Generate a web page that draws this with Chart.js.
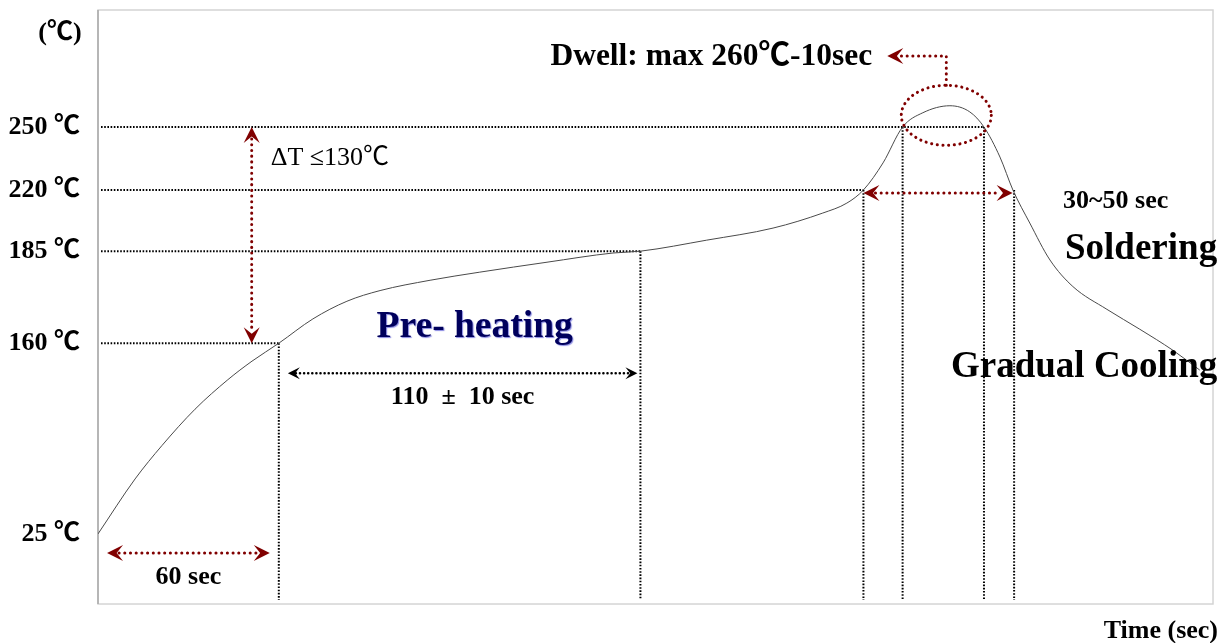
<!DOCTYPE html>
<html>
<head>
<meta charset="utf-8">
<script src="https://cdn.jsdelivr.net/npm/chart.js@4.4.1/dist/chart.umd.min.js"></script>
<style>
  html, body { margin: 0; padding: 0; background: #fff; }
  #wrap { width: 1223px; height: 643px; }
</style>
</head>
<body>
<div id="wrap"><canvas id="profile"></canvas></div>
<script>
// reflow profile (time in sec, temperature in deg C)
const times = [0, 12.3, 21.2, 32.2, 43.1, 51.1, 60, 71.3, 82.6, 93.6, 110.2, 126.7, 149, 170.9, 180, 202, 224, 240.5, 248.5, 254, 260.5, 267, 273.7, 282.7, 289.3, 294, 299.3, 303.6, 309.2, 315.9, 323.5, 334.8, 345.7, 356.7, 365.6];
const temps = [25, 63.9, 87.5, 113.3, 134.2, 147.3, 160, 166.6, 171.4, 174.3, 177.1, 179.3, 182, 184.5, 185, 191.3, 198.2, 206.8, 212.5, 220, 232.9, 250, 256.7, 260, 257.1, 250, 235.7, 220, 201.1, 182.6, 175.4, 169.2, 163.8, 155, 141];

const tempTicks = [25, 160, 185, 220, 250];

// dotted guide lines
const levelTemps = [160, 185, 220, 250];
const levelEnds = [60, 180, 254, 294];
const markTimes = [60, 180, 254, 267, 294, 304];
const markTemps = [160, 185, 220, 250, 250, 220];

const RED = "#800000";
const SERIF = "'Liberation Serif', 'Times New Roman', 'Noto Sans CJK JP', serif";

// the temperature axis in the picture is not linear, so map it piecewise
class PiecewiseScale extends Chart.LinearScale {
  static id = "piecewise";
  toDecimal(v) {
    const s = this.options.stops;
    if (v <= s[0][0]) return s[0][1];
    for (let i = 1; i < s.length; i++) {
      if (v <= s[i][0]) {
        const [v0, d0] = s[i - 1], [v1, d1] = s[i];
        return d0 + ((v - v0) / (v1 - v0)) * (d1 - d0);
      }
    }
    return s[s.length - 1][1];
  }
  getPixelForValue(v) {
    return this.getPixelForDecimal(this.toDecimal(v));
  }
  getValueForPixel(p) {
    const d = this.getDecimalForPixel(p);
    const s = this.options.stops;
    for (let i = 1; i < s.length; i++) {
      if (d <= s[i][1]) {
        const [v0, d0] = s[i - 1], [v1, d1] = s[i];
        return v0 + ((d - d0) / (d1 - d0)) * (v1 - v0);
      }
    }
    return s[s.length - 1][0];
  }
}
Chart.register(PiecewiseScale);

function dotted(ctx, pts, color, width, dash, round) {
  ctx.save();
  ctx.strokeStyle = color;
  ctx.lineWidth = width;
  ctx.lineCap = round ? "round" : "butt";
  ctx.setLineDash(dash);
  ctx.beginPath();
  pts.forEach((p, i) => (i ? ctx.lineTo(p[0], p[1]) : ctx.moveTo(p[0], p[1])));
  ctx.stroke();
  ctx.restore();
}

function head(ctx, x, y, ang, color, len, half) {
  ctx.save();
  ctx.translate(x, y);
  ctx.rotate(ang);
  ctx.fillStyle = color;
  ctx.beginPath();
  ctx.moveTo(0, 0);
  ctx.lineTo(-len, -half);
  ctx.lineTo(-len * 0.6, 0);
  ctx.lineTo(-len, half);
  ctx.closePath();
  ctx.fill();
  ctx.restore();
}

function text(ctx, str, x, y, size, align, opts) {
  opts = opts || {};
  ctx.save();
  ctx.font = (opts.weight || "bold") + " " + size + "px " + SERIF;
  ctx.textAlign = align;
  ctx.textBaseline = "middle";
  ctx.fillStyle = opts.color || "#000";
  if (opts.shadow) {
    ctx.shadowColor = opts.shadow;
    ctx.shadowOffsetX = 1;
    ctx.shadowOffsetY = 1;
    ctx.shadowBlur = 1;
  }
  ctx.fillText(str, x, y);
  ctx.restore();
}

const annotations = {
  id: "annotations",
  beforeDatasetsDraw(chart) {
    const { ctx, chartArea: a, scales: { x, y } } = chart;
    ctx.save();
    ctx.strokeStyle = "#d4d4d4";
    ctx.lineWidth = 1.5;
    ctx.strokeRect(a.left, a.top, a.right - a.left, a.bottom - a.top);
    ctx.strokeStyle = "#a8a8a8";
    ctx.beginPath();
    ctx.moveTo(a.left, a.top);
    ctx.lineTo(a.left, a.bottom);
    ctx.stroke();
    ctx.restore();

    levelTemps.forEach((t, i) => {
      dotted(ctx, [[a.left + 3, y.getPixelForValue(t)], [x.getPixelForValue(levelEnds[i]), y.getPixelForValue(t)]], "#000", 2, [1.6, 1.6]);
    });
    markTimes.forEach((tm, i) => {
      const px = x.getPixelForValue(tm);
      dotted(ctx, [[px, y.getPixelForValue(markTemps[i])], [px, a.bottom - 4]], "#000", 2, [1.6, 1.6]);
    });
  },
  afterDatasetsDraw(chart) {
    const { ctx, chartArea: a, scales: { x, y } } = chart;
    const X = (v) => x.getPixelForValue(v);
    const Y = (v) => y.getPixelForValue(v);

    // delta T arrow
    const ax = X(51);
    dotted(ctx, [[ax, Y(250) + 12], [ax, Y(160) - 12]], RED, 3, [0.1, 5.6], true);
    head(ctx, ax, Y(250), -Math.PI / 2, RED, 16, 8);
    head(ctx, ax, Y(160), Math.PI / 2, RED, 16, 8);
    text(ctx, "\u0394T \u2264130\u2103", ax + 19, Y(250) + 31, 26, "left", { weight: "normal" });

    // 60 sec
    const y60 = Y(25) + 19;
    dotted(ctx, [[X(3) + 12, y60], [X(57) - 12, y60]], RED, 3, [0.1, 5.6], true);
    head(ctx, X(3), y60, Math.PI, RED, 16, 8);
    head(ctx, X(57), y60, 0, RED, 16, 8);
    text(ctx, "60 sec", X(30), y60 + 24, 26, "center");

    // 110 +/- 10 sec
    const y110 = Y(160) + 30;
    dotted(ctx, [[X(63) + 8, y110], [X(179) - 8, y110]], "#000", 2.5, [0.1, 4], true);
    head(ctx, X(63), y110, Math.PI, "#000", 12, 6);
    head(ctx, X(179), y110, 0, "#000", 12, 6);
    text(ctx, "110  \u00b1  10 sec", X(121), y110 + 24, 26, "center");
    text(ctx, "Pre- heating", X(125), Y(160) - 16, 37.5, "center", { color: "#00005c", shadow: "rgba(40,40,200,0.55)" });

    // soldering window
    const y3050 = Y(220) + 3;
    dotted(ctx, [[X(254) + 12, y3050], [X(303.5) - 12, y3050]], RED, 3, [0.1, 5.6], true);
    head(ctx, X(254), y3050, Math.PI, RED, 16, 8);
    head(ctx, X(303.5), y3050, 0, RED, 16, 8);
    text(ctx, "30~50 sec", a.right - 150, y3050 + 8, 26, "left");
    text(ctx, "Soldering", a.right - 148, Y(220) + 59, 37, "left");
    text(ctx, "Gradual Cooling", a.right - 262, Y(160) + 24, 37, "left");

    // dwell ellipse and leader
    const ex = X(281.5), ey = Y(255.5);
    ctx.save();
    ctx.strokeStyle = RED;
    ctx.lineWidth = 3;
    ctx.lineCap = "round";
    ctx.setLineDash([0.1, 5.6]);
    ctx.beginPath();
    ctx.ellipse(ex, ey, 45, 30, 0, 0, Math.PI * 2);
    ctx.stroke();
    ctx.restore();
    const ly = a.top + 46;
    dotted(ctx, [[ex, ey - 30], [ex, ly], [ex - 48, ly]], RED, 3, [0.1, 5.6], true);
    head(ctx, ex - 59, ly, Math.PI, RED, 16, 8);
    text(ctx, "Dwell: max 260\u2103-10sec", ex - 74, ly + 1, 31.5, "right");

    // axis captions
    text(ctx, "(\u2103)", 60, a.top + 23, 26, "center");
    text(ctx, "Time (sec)", 1218, a.bottom + 27, 26, "right");
  }
};

new Chart(document.getElementById("profile"), {
  type: "line",
  data: {
    datasets: [{
      data: times.map((t, i) => ({ x: t, y: temps[i] })),
      borderColor: "#4a4a4a",
      borderWidth: 1,
      pointRadius: 0,
      cubicInterpolationMode: "monotone",
      fill: false,
    }],
  },
  options: {
    responsive: true,
    maintainAspectRatio: false,
    animation: false,
    layout: { padding: { top: 10, right: 10, left: 0, bottom: 0 } },
    plugins: { legend: { display: false }, tooltip: { enabled: false } },
    scales: {
      x: {
        type: "linear",
        min: 0,
        max: 370,
        grid: { display: false },
        border: { display: false },
        ticks: { display: false },
        afterFit: (s) => { s.height = 39; s.paddingLeft = 0; s.paddingRight = 0; },
      },
      y: {
        type: "piecewise",
        min: 0,
        max: 305,
        stops: [[0, 0], [25, 0.118], [160, 0.439], [185, 0.594], [220, 0.697], [250, 0.803], [305, 1]],
        grid: { display: false, drawTicks: false },
        border: { display: false },
        afterBuildTicks: (s) => { s.ticks = tempTicks.map((v) => ({ value: v })); },
        afterFit: (s) => { s.width = 98; s.paddingTop = 0; s.paddingBottom = 0; },
        ticks: {
          padding: 18,
          color: "#000",
          font: { family: SERIF, size: 26, weight: "bold" },
          callback: (v) => v + " \u2103",
        },
      },
    },
  },
  plugins: [annotations],
});
</script>
</body>
</html>
